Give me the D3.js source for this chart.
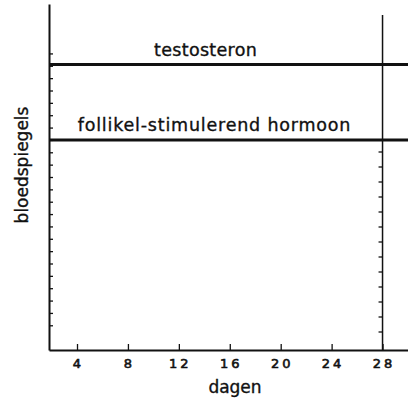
<!DOCTYPE html>
<html>
<head>
<meta charset="utf-8">
<script src="https://cdn.jsdelivr.net/npm/d3@7"></script>
<style>
  html, body { margin: 0; padding: 0; background: #fff; }
  svg text { font-family: "DejaVu Sans", sans-serif; fill: #111; stroke: #111; stroke-width: 0.35; }
</style>
</head>
<body>
<div id="chart"></div>
<script>
// data
var dayTicks = [4, 8, 12, 16, 20, 24, 28];
var levelTicks = [2, 3, 4, 5, 6, 7, 8, 9, 10, 11, 12, 13, 14, 15, 16, 17, 18, 19, 20, 21, 22, 23, 24];
var cycleTicks = [1, 2, 3, 4, 5, 6, 7, 8, 9, 10, 11, 12, 13];
var hormones = ["testosteron", "follikel-stimulerend hormoon"];
var hormoneLevels = [23.1, 17.0];
var labelDays = [14.1, 14.8];
var cycleDay = 28;
var cycleTop = 27.1;

var w = 408, h = 404;
var svg = d3.select("#chart").append("svg")
    .attr("width", w)
    .attr("height", h);

// x starts where the y axis sits
var x = d3.scaleLinear().domain([1.8, 30]).range([49, 408]);
var y = d3.scaleLinear().domain([0, 28]).range([350, 4]);
var yCycle = d3.scaleLinear().domain([0, 23]).range([347, 2]);

// left axis, ticks pointing inward
var yAxis = svg.append("g")
    .attr("transform", "translate(" + x(1.8) + ",0)")
    .call(d3.axisLeft(y).tickValues(levelTicks).tickSizeInner(-4).tickSizeOuter(0).tickFormat(""));
yAxis.select(".domain").attr("stroke", "#111").attr("stroke-width", 2);
yAxis.selectAll(".tick line").attr("stroke", "#111").attr("stroke-width", 1.3);

// bottom axis, ticks pointing up
var xAxis = svg.append("g")
    .attr("transform", "translate(0," + y(0) + ")")
    .call(d3.axisBottom(x).tickValues(dayTicks).tickSizeInner(-6).tickSizeOuter(0).tickFormat(""));
xAxis.select(".domain").attr("stroke", "#111").attr("stroke-width", 2.2);
xAxis.selectAll(".tick line").attr("stroke", "#111").attr("stroke-width", 1.3);

svg.append("g").selectAll("text")
    .data(dayTicks)
    .enter()
    .append("text")
    .attr("x", function (d) { return x(d) + (d >= 10 ? 1.5 : 0); })
    .attr("y", y(0) + 18)
    .attr("text-anchor", "middle")
    .attr("font-size", 13)
    .attr("letter-spacing", function (d) { return d >= 10 ? 3 : 0; })
    .style("stroke-width", 0.6)
    .text(function (d) { return d; });

// day 28 line with its own ticks
svg.append("line")
    .attr("x1", x(cycleDay)).attr("x2", x(cycleDay))
    .attr("y1", y(cycleTop)).attr("y2", y(0))
    .attr("stroke", "#111")
    .attr("stroke-width", 1.5);
svg.append("g").selectAll("line")
    .data(cycleTicks)
    .enter()
    .append("line")
    .attr("x1", x(cycleDay) - 4).attr("x2", x(cycleDay))
    .attr("y1", function (d) { return yCycle(d); })
    .attr("y2", function (d) { return yCycle(d); })
    .attr("stroke", "#111")
    .attr("stroke-width", 1.3);

// hormone levels
svg.append("g").selectAll("line")
    .data(hormoneLevels)
    .enter()
    .append("line")
    .attr("x1", x(1.8)).attr("x2", x(30))
    .attr("y1", function (d) { return y(d); })
    .attr("y2", function (d) { return y(d); })
    .attr("stroke", "#111")
    .attr("stroke-width", 3);

svg.append("g").selectAll("text")
    .data(hormones)
    .enter()
    .append("text")
    .attr("x", function (d, i) { return x(labelDays[i]); })
    .attr("y", function (d, i) { return y(hormoneLevels[i]) - 9; })
    .attr("text-anchor", "middle")
    .attr("font-size", 17.5)
    .attr("letter-spacing", function (d, i) { return i === 0 ? 0.3 : 0.8; })
    .text(function (d) { return d; });

// axis titles
svg.append("text")
    .attr("x", 235)
    .attr("y", 393)
    .attr("text-anchor", "middle")
    .attr("font-size", 17)
    .text("dagen");

svg.append("text")
    .attr("transform", "translate(28,165) rotate(-90)")
    .attr("text-anchor", "middle")
    .attr("font-size", 17)
    .text("bloedspiegels");
</script>
</body>
</html>
